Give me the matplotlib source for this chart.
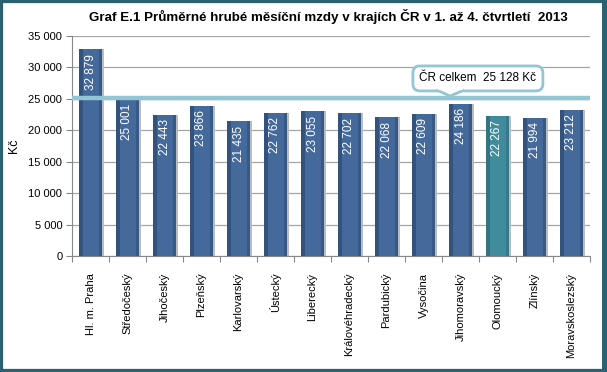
import matplotlib
matplotlib.use("Agg")
import matplotlib.pyplot as plt
import numpy as np
from matplotlib.patches import Rectangle, Polygon

plt.rcParams['font.family'] = ['Liberation Sans', 'DejaVu Sans']

regions = ["Hl. m. Praha", "Středočeský", "Jihočeský", "Plzeňský", "Karlovarský",
           "Ústecký", "Liberecký", "Královéhradecký", "Pardubický", "Vysočina",
           "Jihomoravský", "Olomoucký", "Zlínský", "Moravskoslezský"]
wages = [32879, 25001, 22443, 23866, 21435, 22762, 23055, 22702, 22068, 22609,
         24186, 22267, 21994, 23212]
highlight = "Olomoucký"
cr_total = 25128
yticks = [0, 5000, 10000, 15000, 20000, 25000, 30000, 35000]
title = "Graf E.1 Průměrné hrubé měsíční mzdy v krajích ČR v 1. až 4. čtvrtletí  2013"


def fmt(v):
    return f"{v:,}".replace(",", " ")


fig = plt.figure(figsize=(6.07, 3.72), dpi=100)
fig.patch.set_facecolor("white")
ax = fig.add_axes([72 / 607, 1 - 256 / 372, 518 / 607, 220 / 372])

x = np.arange(len(regions))
width = 0.62
base = "#44699b"
dark = "#2c4a72"
teal = "#418c9c"
teal_dark = "#2d6a78"
colors = [teal if r == highlight else base for r in regions]
darks = [teal_dark if r == highlight else dark for r in regions]

# shadow
ax.bar(x + 0.06, wages, width=width, color="#b8bcc4", zorder=2, linewidth=0)
bars = ax.bar(x, wages, width=width, color=colors, zorder=3, linewidth=0)
# darker edge strips to mimic gradient
ax.bar(x - width / 2 + 0.05, wages, width=0.1, color=darks, zorder=3.5, linewidth=0, alpha=0.7)
ax.bar(x + width / 2 - 0.04, wages, width=0.08, color=darks, zorder=3.5, linewidth=0, alpha=0.5)

for xi, v in zip(x, wages):
    ax.text(xi, v - 700, fmt(v), rotation=90, ha="center", va="top",
            color="white", fontsize=8.5, zorder=5)

ax.set_ylim(0, 35000)
ax.set_xlim(-0.5, len(regions) - 0.5)
ax.set_yticks(yticks)
ax.set_yticklabels([fmt(v) for v in yticks], fontsize=8)
ax.yaxis.grid(True, color="#a6a6a6", linewidth=0.9, zorder=0)
ax.set_axisbelow(True)

ax.set_xticks(np.arange(len(regions) + 1) - 0.5)
ax.set_xticklabels([])
ax.set_xticks(x, minor=True)
ax.set_xticklabels(regions, minor=True, rotation=90, fontsize=8)
ax.tick_params(axis="x", which="minor", length=0, pad=12)
ax.tick_params(axis="x", which="major", length=4, color="#888888")
ax.tick_params(axis="y", length=4, color="#888888", pad=3)

for s in ["top", "right"]:
    ax.spines[s].set_visible(False)
ax.spines["left"].set_color("#888888")
ax.spines["bottom"].set_color("#888888")

ax.set_ylabel("Kč", fontsize=9, labelpad=6)

# national average line
ax.axhline(cr_total, color="#92c6d4", linewidth=3.2, zorder=4)

# callout
ax.text(10.47, 28250, f"ČR celkem  {fmt(cr_total)} Kč", ha="center", va="center",
        fontsize=8.5, zorder=6,
        bbox=dict(boxstyle="round,pad=0.55,rounding_size=0.6", fc="white",
                  ec="#92c6d4", lw=2))
tri = Polygon([[9.35, 26420], [9.72, 25450], [10.1, 26420]], closed=False,
              fc="white", ec="#92c6d4", lw=2, zorder=7)
ax.add_patch(tri)
ax.add_patch(Rectangle((9.38, 26450), 0.69, 500, fc="white", ec="none", zorder=7.5))

fig.text(328 / 607, 1 - 17 / 372, title, ha="center", va="center",
         fontsize=9.6, fontweight="bold")

# frame
fig.patches.append(Rectangle((0, 0), 1, 1, transform=fig.transFigure, fill=False,
                             ec="#2b6272", lw=4.5, zorder=10))
fig.patches.append(Rectangle((602 / 607, 0), 5 / 607, 1, transform=fig.transFigure,
                             fc="#2b6272", ec="none", zorder=10))

fig.savefig("out.png", dpi=100, facecolor="white")
